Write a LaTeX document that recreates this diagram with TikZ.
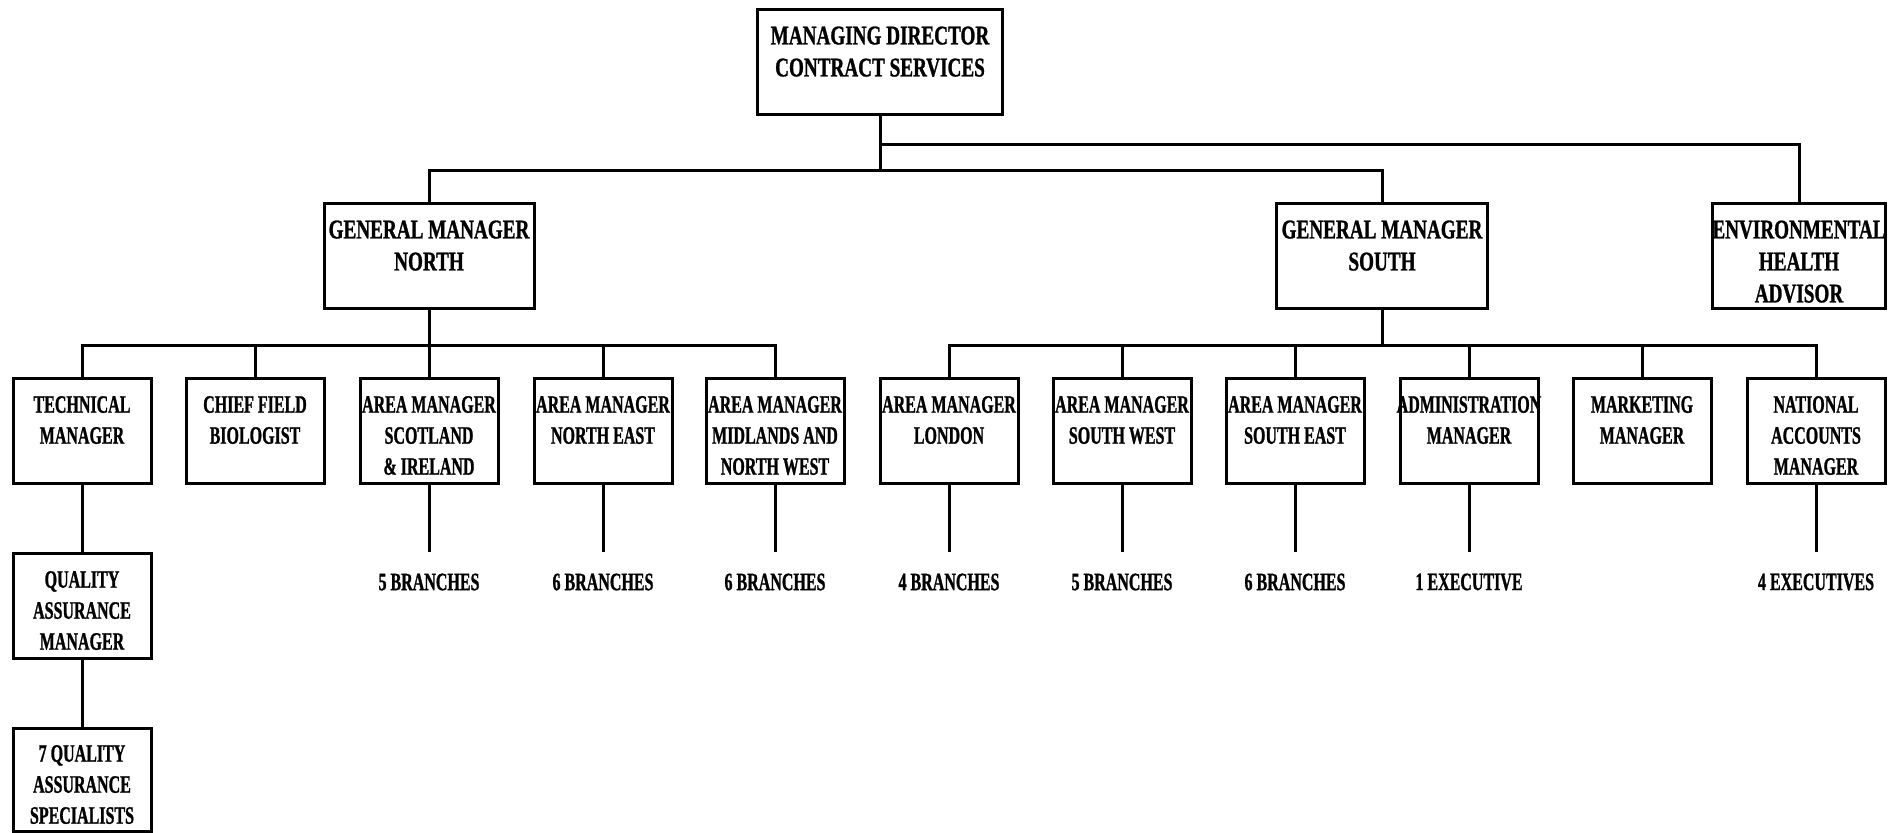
\documentclass[tikz,border=0pt]{standalone}
\usepackage{fontspec}
\newfontfamily\headfont{Liberation Serif Bold}[FakeStretch=0.71, FakeBold=1]
\newfontfamily\postfont{Liberation Serif Bold}[FakeStretch=0.64, FakeBold=1]
% text of a box: top aligned, centred, may run past the box
\newcommand{\duty}[1]{\vbox to 80pt{\hbox to 120pt{\hss\begin{tabular}[t]{@{}c@{}}#1\end{tabular}\hss}\vss}}

\begin{document}
\begin{tikzpicture}
[
    x=1pt, y=-1pt,
    post/.style={draw, line width=3pt, anchor=north, minimum width=138, minimum height=105, inner sep=0pt, font=\postfont\fontsize{25}{31}\selectfont},
    head/.style={post, font=\headfont\fontsize{27}{32}\selectfont},
    tally/.style={inner sep=0pt, font=\postfont\fontsize{25}{31}\selectfont},
    link/.style={line width=3pt},
]
    \useasboundingbox (0,0) rectangle (1902,832);

    \node[head, minimum width=245] (md) at (880,8) {\duty{MANAGING DIRECTOR\\CONTRACT SERVICES}};

    \node[head, minimum width=210] (gmn) at (429,202) {\duty{GENERAL MANAGER\\NORTH}};
    \node[head, minimum width=211] (gms) at (1382,202) {\duty{GENERAL MANAGER\\SOUTH}};
    \node[head, minimum width=173] (env) at (1799,202) {\duty{ENVIRONMENTAL\\HEALTH\\ADVISOR}};

    \node[post] (tech) at (82,377) {\duty{TECHNICAL\\MANAGER}};
    \node[post] (chief) at (255,377) {\duty{CHIEF FIELD\\BIOLOGIST}};
    \node[post] (amsi) at (429,377) {\duty{AREA MANAGER\\SCOTLAND\\\& IRELAND}};
    \node[post] (amne) at (603,377) {\duty{AREA MANAGER\\NORTH EAST}};
    \node[post] (ammw) at (775,377) {\duty{AREA MANAGER\\MIDLANDS AND\\NORTH WEST}};
    \node[post] (amln) at (949,377) {\duty{AREA MANAGER\\LONDON}};
    \node[post] (amsw) at (1122,377) {\duty{AREA MANAGER\\SOUTH WEST}};
    \node[post] (amse) at (1295,377) {\duty{AREA MANAGER\\SOUTH EAST}};
    \node[post] (admin) at (1469,377) {\duty{ADMINISTRATION\\MANAGER}};
    \node[post] (mkt) at (1642,377) {\duty{MARKETING\\MANAGER}};
    \node[post] (nat) at (1816,377) {\duty{NATIONAL\\ACCOUNTS\\MANAGER}};

    \node[post] (qa) at (82,552) {\duty{QUALITY\\ASSURANCE\\MANAGER}};
    \node[post, minimum height=103] (qas) at (82,727) {\duty{7 QUALITY\\ASSURANCE\\SPECIALISTS}};

    \node[tally] (t1) at (429,582) {5 BRANCHES};
    \node[tally] (t2) at (603,582) {6 BRANCHES};
    \node[tally] (t3) at (775,582) {6 BRANCHES};
    \node[tally] (t4) at (949,582) {4 BRANCHES};
    \node[tally] (t5) at (1122,582) {5 BRANCHES};
    \node[tally] (t6) at (1295,582) {6 BRANCHES};
    \node[tally] (t7) at (1469,582) {1 EXECUTIVE};
    \node[tally] (t8) at (1816,582) {4 EXECUTIVES};

    \foreach \sub in {gmn, gms}
        \draw[link] (md.south) -- ++(0,54) -| (\sub.north);
    \draw[link] (md.south) -- ++(0,28) -| (env.north);

    \foreach \sub in {tech, chief, amsi, amne, ammw}
        \draw[link] (gmn.south) -- ++(0,35) -| (\sub.north);
    \foreach \sub in {amln, amsw, amse, admin, mkt, nat}
        \draw[link] (gms.south) -- ++(0,35) -| (\sub.north);

    \draw[link] (tech) -- (qa);
    \draw[link] (qa) -- (qas);

    \foreach \boss/\tal in {amsi/t1, amne/t2, ammw/t3, amln/t4, amsw/t5, amse/t6, admin/t7, nat/t8}
        \draw[link, shorten >=21pt] (\boss.south) -- (\tal.north);
\end{tikzpicture}
\end{document}
